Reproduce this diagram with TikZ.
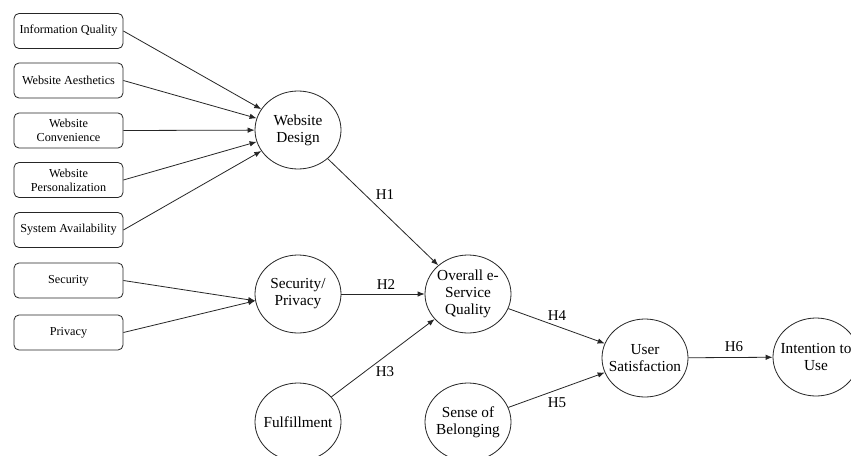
\documentclass[tikz,border=0pt]{standalone}
\usepackage{fontspec}
\setmainfont{Liberation Serif}
\usetikzlibrary{shapes.geometric,arrows.meta,calc}
\begin{document}
\begin{tikzpicture}[x=1pt,y=-1pt,
  ln/.style={draw=black!85,line width=0.8pt},
  boxnode/.style={ln,rounded corners=5pt,minimum width=109pt,minimum height=35pt,inner sep=1pt,align=center,font=\fontsize{12.2}{14}\selectfont},
  circ/.style={ln,ellipse,minimum width=86pt,minimum height=78pt,inner xsep=-12pt,inner ysep=-4pt,align=center,font=\fontsize{15.3}{17}\selectfont},
  arr/.style={ln,-{Latex[length=7pt,width=5.5pt]}},
  hlab/.style={font=\fontsize{15}{17}\selectfont,inner sep=0pt}
]
\clip (0,0) rectangle (851,455);
\fill[white] (0,0) rectangle (851,455);
% boxes
\node[boxnode] (iq) at (68.5,31) {Information Quality};
\node[boxnode] (wa) at (68.5,80.5) {Website Aesthetics};
\node[boxnode] (wc) at (68.5,130.5) {Website\\Convenience};
\node[boxnode] (wp) at (68.5,180) {Website\\Personalization};
\node[boxnode] (sa) at (68.5,230) {System Availability};
\node[boxnode] (sec) at (68.5,280.5) {Security};
\node[boxnode] (priv) at (68.5,332.5) {Privacy};
% constructs
\node[circ] (wd) at (298,130) {Website\\Design};
\node[circ] (sp) at (298,294) {Security/\\Privacy};
\node[circ] (ful) at (298,422) {Fulfillment};
\node[circ] (osq) at (468,294) {Overall e-\\Service\\Quality};
\node[circ] (sob) at (468,422) {Sense of\\Belonging};
\node[circ] (us) at (645,358) {User\\Satisfaction};
\node[circ] (iu) at (816,357) {Intention to\\Use};
% arrows
\draw[arr] (iq.east) -- (wd);
\draw[arr] (wa.east) -- (wd);
\draw[arr] (wc.east) -- (wd);
\draw[arr] (wp.east) -- (wd);
\draw[arr] (sa.east) -- (wd);
\draw[arr] (sec.east) -- (sp.189);
\draw[arr] (priv.east) -- (sp.189);
\draw[arr] (wd) -- (osq);
\draw[arr] (sp) -- (osq);
\draw[arr] (ful) -- (osq);
\draw[arr] (osq) -- (us);
\draw[arr] (sob) -- (us);
\draw[arr] (us) -- (iu);
% labels
\node[hlab] (h1) at (385,195) {H1};
\node[hlab] (h2) at (386,285) {H2};
\node[hlab] (h3) at (385,372) {H3};
\node[hlab] (h4) at (557,316) {H4};
\node[hlab] (h5) at (557,403) {H5};
\node[hlab] (h6) at (734,347) {H6};
\end{tikzpicture}
\end{document}
